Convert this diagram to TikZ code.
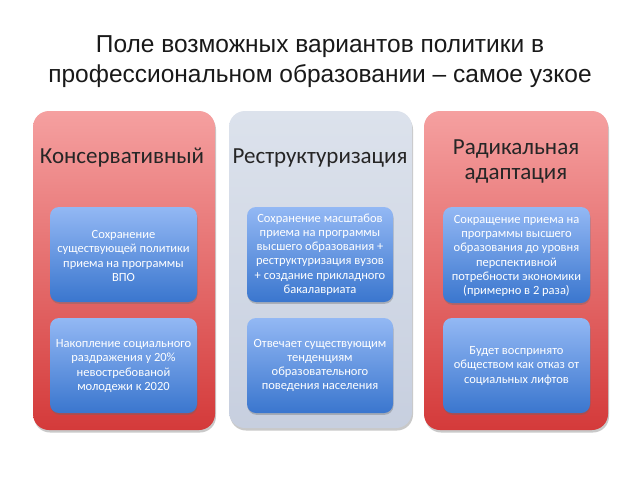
\documentclass[tikz,border=0pt]{standalone}
\usepackage{fontspec}
\setmainfont{Carlito}
\newfontfamily\titlefont{Liberation Sans}
\usetikzlibrary{shadows}
\definecolor{redtop}{HTML}{F5A0A0}
\definecolor{redbot}{HTML}{D43A3A}
\definecolor{graytop}{HTML}{DCE2EC}
\definecolor{graybot}{HTML}{C7CFDF}
\definecolor{bluetop}{HTML}{93B8F4}
\definecolor{bluebot}{HTML}{3A76CE}
\tikzset{
  panel/.style={rounded corners=16pt, inner sep=0pt,
    drop shadow={shadow xshift=1pt, shadow yshift=-2.5pt, opacity=0.35, fill=black!60}},
  redpanel/.style={panel, top color=redtop, bottom color=redbot},
  graypanel/.style={panel, top color=graytop, bottom color=graybot},
  innerbox/.style={rounded corners=9pt, top color=bluetop, bottom color=bluebot,
    drop shadow={shadow xshift=0.5pt, shadow yshift=-1.8pt, opacity=0.35, fill=black!60}},
  innertext/.style={text=white, align=center, font=\fontsize{12.5}{14.2}\selectfont},
  paneltitle/.style={text=black!85, align=center, font=\fontsize{23}{25}\selectfont},
}
\begin{document}
\begin{tikzpicture}[x=1pt,y=-1pt]
\useasboundingbox[fill=white] (0,0) rectangle (640,480);
% title
\node[font=\titlefont\fontsize{24.5}{30}\selectfont, align=center, text=black!90] (title) at (320,62)
  {Поле возможных вариантов политики в\\профессиональном образовании – самое узкое};
% panels
\path[redpanel] (33,111) rectangle (215,430);
\node (p1) at (124,270) {};
\path[graypanel] (229,111) rectangle (412,428);
\node (p2) at (320,270) {};
\path[redpanel] (424,111) rectangle (608,430);
\node (p3) at (516,270) {};
% panel titles
\node[paneltitle] (t1) at (122,158) {Консервативный};
\node[paneltitle] (t2) at (320,158) {Реструктуризация};
\node[paneltitle] (t3) at (516,162) {Радикальная\\адаптация};
% inner boxes
\path[innerbox] (50,207) rectangle (197,302);
\path[innerbox] (50,318) rectangle (197,413);
\path[innerbox] (247,207) rectangle (393,302);
\path[innerbox] (247,318) rectangle (393,413);
\path[innerbox] (443,207) rectangle (590,303);
\path[innerbox] (443,318) rectangle (590,413);
% inner texts
\node[innertext] (b11) at (123.5,256) {Сохранение\\существующей политики\\приема на программы\\ВПО};
\node[innertext] (b12) at (123.5,366) {Накопление социального\\раздражения у 20\%\\невостребованой\\молодежи к 2020};
\node[innertext] (b21) at (320,254.5) {Сохранение масштабов\\приема на программы\\высшего образования +\\реструктуризация вузов\\+ создание прикладного\\бакалавриата};
\node[innertext] (b22) at (320,365.5) {Отвечает существующим\\тенденциям\\образовательного\\поведения населения};
\node[innertext] (b31) at (516.5,256) {Сокращение приема на\\программы высшего\\образования до уровня\\перспективной\\потребности экономики\\(примерно в 2 раза)};
\node[innertext] (b32) at (516.5,366) {Будет воспринято\\обществом как отказ от\\социальных лифтов};
\end{tikzpicture}
\end{document}
